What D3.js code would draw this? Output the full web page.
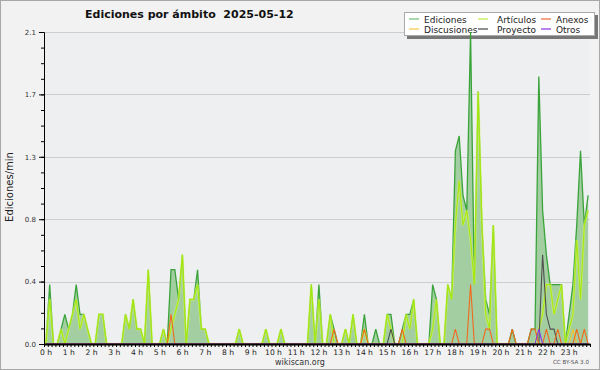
<!DOCTYPE html>
<html>
<head>
<meta charset="utf-8">
<script src="https://cdn.jsdelivr.net/npm/d3@7"></script>
<style>
  body { margin: 0; background: #f2f2f2; }
  svg { display: block; }
  text { font-family: "DejaVu Sans", sans-serif; }
</style>
</head>
<body>
<svg id="chart" width="600" height="370"></svg>
<script>
// edits per minute, one value per 10 minutes (144 points)
const ediciones = [
  0,0.4,0,0,0.1,0.2,0.1,0.2,0.4,0.2,0.2,0.1,
  0,0,0.2,0.2,0,0,0,0,0,0.2,0.1,0.3,
  0.1,0.1,0,0.5,0,0,0,0.1,0,0.5,0.5,0.3,
  0.6,0,0.3,0.3,0.5,0.1,0.1,0,0,0,0,0,
  0,0,0,0.1,0,0,0,0,0,0,0.1,0,
  0,0,0.1,0,0,0,0,0,0,0,0.4,0,
  0.4,0,0,0.2,0.1,0,0,0.1,0,0.2,0,0,
  0.2,0,0,0.1,0,0,0.2,0.2,0,0,0.1,0.2,
  0.2,0.3,0,0,0,0,0.4,0.3,0,0,0.4,0.3,
  1.3,1.4,1.0,0.9,2.1,0.4,1.7,0.8,0.3,0.2,0.8,0,
  0,0,0,0.1,0,0,0,0,0.1,0.1,1.8,0.9,
  0.6,0.4,0.4,0.4,0.4,0,0.2,0.4,0.8,1.3,0.8,1.0
];
const articulos = [
  0,0.3,0,0,0.1,0,0.1,0.2,0.3,0.1,0.2,0.1,
  0,0,0.2,0.2,0,0,0,0,0,0.2,0.1,0.3,
  0.1,0.1,0,0.5,0,0,0,0.1,0,0.1,0.2,0.3,
  0.6,0,0.3,0.3,0.4,0.1,0.1,0,0,0,0,0,
  0,0,0,0.1,0,0,0,0,0,0,0.1,0,
  0,0,0.1,0,0,0,0,0,0,0,0.4,0,
  0.3,0,0,0.2,0,0,0,0.1,0,0.2,0,0,
  0.1,0,0,0,0,0,0.2,0.1,0,0,0,0.2,
  0.1,0.3,0,0,0,0,0.1,0.3,0,0,0.4,0.3,
  0.8,1.1,0.8,0.9,0.7,0.4,1.7,0.8,0.2,0.1,0.8,0,
  0,0,0,0,0,0,0,0,0,0,0.1,0.2,
  0.4,0.4,0.2,0.3,0.4,0,0.1,0.2,0.7,0.3,0.8,0.9
];
const anexos = [
  0,0,0,0,0,0,0,0,0,0,0,0,
  0,0,0,0,0,0,0,0,0,0,0,0,
  0,0,0,0,0,0,0,0,0,0.2,0,0,
  0,0,0,0,0,0,0,0,0,0,0,0,
  0,0,0,0,0,0,0,0,0,0,0,0,
  0,0,0,0,0,0,0,0,0,0,0,0,
  0,0,0,0,0.1,0,0,0,0,0,0,0,
  0.1,0,0,0,0,0,0,0,0,0,0.1,0,
  0,0,0,0,0,0,0,0,0,0,0,0,
  0.1,0,0,0,0.4,0,0,0,0.1,0.1,0,0,
  0,0,0,0.1,0,0,0,0,0.1,0.1,0,0,
  0.1,0,0,0.1,0,0,0,0,0.1,0,0.1,0
];
const discusiones = [
  0,0,0,0,0,0,0,0,0,0,0,0,
  0,0,0,0,0,0,0,0,0,0,0,0,
  0,0,0,0,0,0,0,0,0,0,0,0,
  0,0,0,0,0,0,0,0,0,0,0,0,
  0,0,0,0,0,0,0,0,0,0,0,0,
  0,0,0,0,0,0,0,0,0,0,0,0,
  0,0,0,0,0,0,0,0,0,0,0,0,
  0,0,0,0,0,0,0,0,0,0,0,0,
  0,0,0,0,0,0,0,0,0,0,0,0,
  0,0,0,0,0,0,0,0,0,0,0,0,
  0,0,0,0,0,0,0,0,0,0,0,0,
  0,0,0,0,0,0,0,0.1,0,0,0,0
];
const proyecto = [
  0,0,0,0,0,0,0,0,0,0,0,0,
  0,0,0,0,0,0,0,0,0,0,0,0,
  0,0,0,0,0,0,0,0,0,0,0,0,
  0,0,0,0,0,0,0,0,0,0,0,0,
  0,0,0,0,0,0,0,0,0,0,0,0,
  0,0,0,0,0,0,0,0,0,0,0,0,
  0,0,0,0,0,0,0,0,0,0,0,0,
  0,0,0,0,0,0,0,0.1,0,0,0,0,
  0,0,0,0,0,0,0,0,0,0,0,0,
  0,0,0,0,0,0,0,0,0,0,0,0,
  0,0,0,0,0,0,0,0,0,0,0,0.6,
  0.2,0.1,0.1,0,0,0,0,0,0,0,0,0
];
const otros = [
  0,0,0,0,0,0,0,0,0,0,0,0,
  0,0,0,0,0,0,0,0,0,0,0,0,
  0,0,0,0,0,0,0,0,0,0,0,0,
  0,0,0,0,0,0,0,0,0,0,0,0,
  0,0,0,0,0,0,0,0,0,0,0,0,
  0,0,0,0,0,0,0,0,0,0,0,0,
  0,0,0,0,0,0,0,0,0,0,0,0,
  0,0,0,0,0,0,0,0,0,0,0,0,
  0,0,0,0,0,0,0,0,0,0,0,0,
  0,0,0,0,0,0,0,0,0,0,0,0,
  0,0,0,0,0,0,0,0,0,0,0.1,0,
  0,0,0,0,0,0,0,0,0,0,0,0
];

const yTicks = [0, 0.42, 0.84, 1.26, 1.68, 2.1];
const yTickLabels = ["0.0", "0.4", "0.8", "1.3", "1.7", "2.1"];
const hourLabels = ["0 h","1 h","2 h","3 h","4 h","5 h","6 h","7 h","8 h","9 h","10 h","11 h",
  "12 h","13 h","14 h","15 h","16 h","17 h","18 h","19 h","20 h","21 h","22 h","23 h"];

const series = [
  { name: "Ediciones",   values: ediciones,   color: "#3aa43a", legend: "#86c886" },
  { name: "Discusiones", values: discusiones, color: "#f2c630", legend: "#f2d060" },
  { name: "Artículos",   values: articulos,   color: "#a6e80e", legend: "#c8ee60" },
  { name: "Proyecto",    values: proyecto,    color: "#505050", legend: "#606060" },
  { name: "Anexos",      values: anexos,      color: "#f06a1c", legend: "#f08050" },
  { name: "Otros",       values: otros,       color: "#8a35e8", legend: "#9a50ec" }
];

const plotL = 44, plotR = 590, plotT = 32, plotB = 344;
const svg = d3.select('#chart');

// background + frame
svg.append('rect').attr('width', 600).attr('height', 370).attr('fill', '#f2f2f2');
svg.append('rect').attr('x', 0.5).attr('y', 0.5).attr('width', 599).attr('height', 369)
  .attr('fill', 'none').attr('stroke', '#a8a8a8');
svg.append('rect').attr('x', plotL).attr('y', plotT).attr('width', plotR - plotL).attr('height', plotB - plotT)
  .attr('fill', '#eeeff1');

const x = d3.scaleLinear().domain([0, 144]).range([plotL, plotR]);
const y = d3.scaleLinear().domain([0, 2.1]).range([plotB, plotT]);

// grid
svg.selectAll('.grid')
  .data(yTicks.slice(1))
  .enter()
  .append('line')
  .attr('x1', plotL).attr('x2', plotR)
  .attr('y1', d => Math.round(y(d)) + 0.5).attr('y2', d => Math.round(y(d)) + 0.5)
  .attr('stroke', '#cdcdcd');

// legend (drawn below the data, like the original)
const lg = svg.append('g');
lg.append('rect').attr('x', 407).attr('y', 15).attr('width', 191).attr('height', 24).attr('fill', '#777');
lg.append('rect').attr('x', 404.5).attr('y', 12.5).attr('width', 190).attr('height', 23)
  .attr('fill', '#ffffff').attr('stroke', '#aaaaaa');
const legendOrder = ["Ediciones", "Artículos", "Anexos", "Discusiones", "Proyecto", "Otros"];
const colX = [409, 478, 541];
const textX = [424, 497, 556];
legendOrder.forEach((name, k) => {
  const s = series.find(d => d.name === name);
  const col = k % 3, row = Math.floor(k / 3);
  const ly = 19 + row * 10;
  lg.append('line').attr('x1', colX[col]).attr('x2', colX[col] + 10)
    .attr('y1', ly).attr('y2', ly).attr('stroke', s.legend).attr('stroke-width', 1.4);
  lg.append('text').attr('x', textX[col]).attr('y', ly + 3.5)
    .attr('font-size', 9).attr('fill', '#222').text(name);
});

// data
const px = (d, i) => x(i + 0.5);
const area = d3.area().x(px).y0(plotB).y1(d => y(d));
const line = d3.line().x(px).y(d => y(d));

svg.append('path').datum(ediciones).attr('d', area).attr('fill', '#a2cea2');

const drawOrder = ["Ediciones", "Artículos", "Discusiones", "Proyecto", "Anexos", "Otros"];
drawOrder.forEach(name => {
  const s = series.find(d => d.name === name);
  if (name === "Artículos") {
    svg.append('path').datum(s.values).attr('d', line).attr('fill', 'none')
      .attr('stroke', '#d8f870').attr('stroke-width', 2.4).attr('stroke-opacity', 0.6);
  }
  svg.append('path').datum(s.values).attr('d', line).attr('fill', 'none')
    .attr('stroke', s.color).attr('stroke-width', name === "Ediciones" ? 1.3 : 1.1);
});

// y axis
const yAxis = svg.append('g').attr('transform', `translate(${plotL},0)`)
  .call(d3.axisLeft(y).tickValues(yTicks).tickSize(5).tickSizeOuter(0)
    .tickFormat((d, i) => yTickLabels[i]));
yAxis.selectAll('text').attr('font-size', 7).attr('fill', '#333').attr('font-family', '"DejaVu Sans", sans-serif');
const yMinor = d3.range(0, 21).map(k => k * 0.105);
svg.append('g').attr('transform', `translate(${plotL},0)`)
  .call(d3.axisLeft(y).tickValues(yMinor).tickSize(3).tickSizeOuter(0).tickFormat(''));
svg.selectAll('.domain').attr('stroke', '#000');

// x axis
const xMinor = d3.range(0, 145);
const xAxis = svg.append('g').attr('transform', `translate(0,${plotB})`)
  .call(d3.axisBottom(x).tickValues(xMinor).tickSize(3).tickSizeOuter(0).tickFormat(''));
xAxis.select('.domain').attr('stroke-width', 2);
svg.selectAll('.hour')
  .data(hourLabels)
  .enter()
  .append('text')
  .attr('x', (d, i) => x(i * 6) + 2)
  .attr('y', 355)
  .attr('text-anchor', 'middle')
  .attr('font-size', 7.6)
  .attr('fill', '#222')
  .text(d => d);

// titles
svg.append('text').attr('x', 85).attr('y', 18)
  .attr('font-size', 11).attr('font-weight', 'bold').attr('fill', '#111')
  .style('white-space', 'pre')
  .text('Ediciones por ámbito  2025-05-12');

svg.append('text')
  .attr('transform', 'translate(13,187) rotate(-90)')
  .attr('text-anchor', 'middle')
  .attr('font-family', '"DejaVu Sans Mono", monospace')
  .attr('font-size', 10).attr('fill', '#222')
  .text('Ediciones/min');

svg.append('text').attr('x', 300).attr('y', 365).attr('text-anchor', 'middle')
  .attr('font-size', 8).attr('fill', '#333').text('wikiscan.org');

svg.append('text').attr('x', 589).attr('y', 364).attr('text-anchor', 'end')
  .attr('font-size', 5.6).attr('fill', '#555').text('CC BY-SA 3.0');
</script>
</body>
</html>
